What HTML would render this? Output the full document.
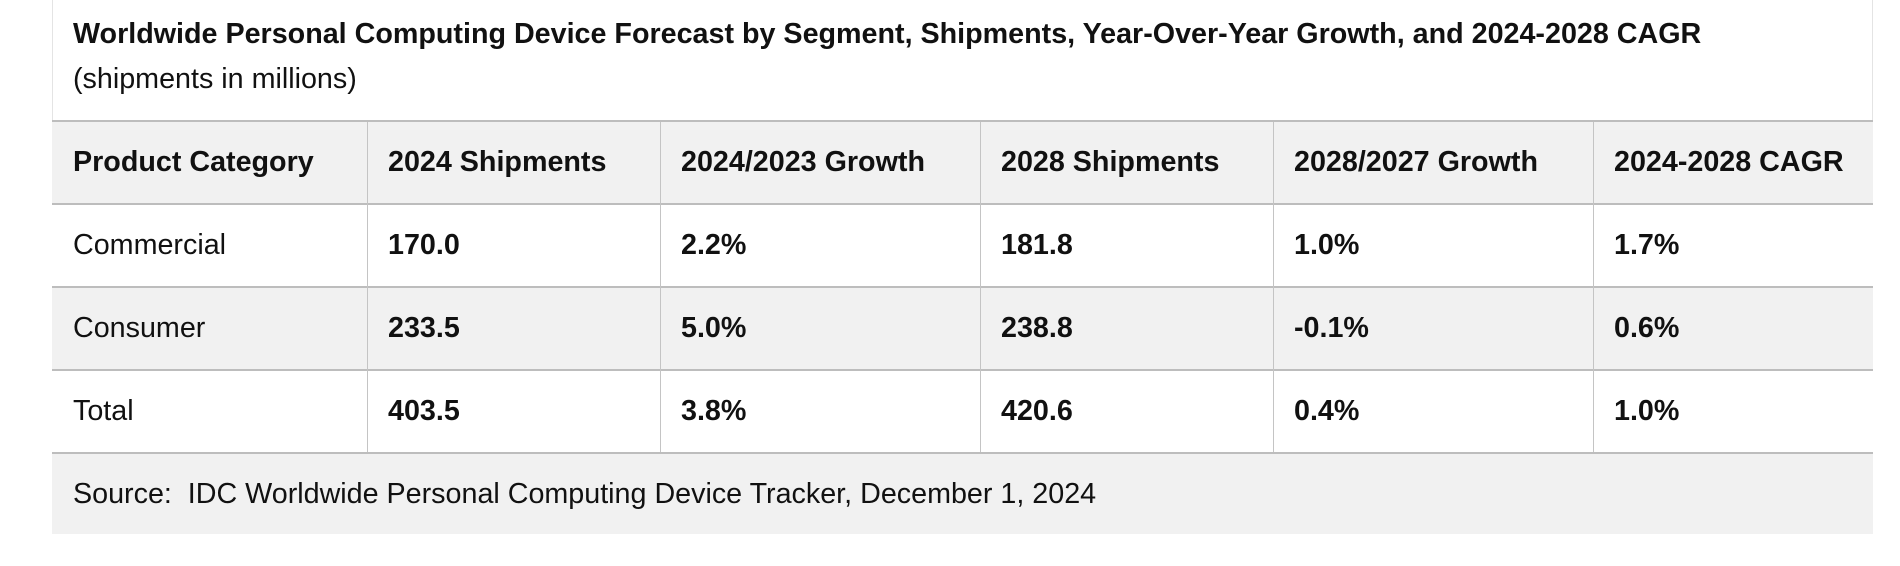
<!DOCTYPE html>
<html><head><meta charset="utf-8"><style>
html,body{margin:0;padding:0;background:#fff;width:1900px;height:566px;overflow:hidden;font-family:"Liberation Sans",sans-serif;color:#111;}
.box{position:absolute;left:52px;top:0;width:1821px;height:534px;border-left:1px solid #e4e4e4;border-right:1px solid #e4e4e4;box-sizing:border-box;}
.t{position:absolute;white-space:nowrap;}
.title{left:73px;top:18px;font-size:28.7px;font-weight:bold;}
.sub{left:73px;top:63px;font-size:28.7px;}
.row{position:absolute;left:52px;width:1821px;border-top:2px solid #bdbdbd;box-sizing:border-box;}
.vl{position:absolute;width:1px;background:#c4c4c4;}
.c{position:absolute;font-size:28.7px;white-space:nowrap;}
.b{font-weight:bold;}
</style></head><body>
<div class="box"></div>
<div class="t title">Worldwide Personal Computing Device Forecast by Segment, Shipments, Year-Over-Year Growth, and 2024-2028 CAGR</div>
<div class="t sub">(shipments in millions)</div>
<div class="row" style="top:120px;height:84px;background:#f1f1f1"></div>
<div class="row" style="top:203px;height:84px;background:#fff"></div>
<div class="row" style="top:286px;height:84px;background:#f1f1f1"></div>
<div class="row" style="top:369px;height:84px;background:#fff"></div>
<div class="row" style="top:452px;height:82px;background:#f1f1f1"></div>
<div class="vl" style="left:367px;top:122px;height:330px"></div>
<div class="vl" style="left:660px;top:122px;height:330px"></div>
<div class="vl" style="left:980px;top:122px;height:330px"></div>
<div class="vl" style="left:1273px;top:122px;height:330px"></div>
<div class="vl" style="left:1593px;top:122px;height:330px"></div>

<div class="c b" style="left:73px;top:146px">Product Category</div>
<div class="c b" style="left:388px;top:146px">2024 Shipments</div>
<div class="c b" style="left:681px;top:146px">2024/2023 Growth</div>
<div class="c b" style="left:1001px;top:146px">2028 Shipments</div>
<div class="c b" style="left:1294px;top:146px">2028/2027 Growth</div>
<div class="c b" style="left:1614px;top:146px">2024-2028 CAGR</div>

<div class="c" style="left:73px;top:229px">Commercial</div>
<div class="c b" style="left:388px;top:229px">170.0</div>
<div class="c b" style="left:681px;top:229px">2.2%</div>
<div class="c b" style="left:1001px;top:229px">181.8</div>
<div class="c b" style="left:1294px;top:229px">1.0%</div>
<div class="c b" style="left:1614px;top:229px">1.7%</div>

<div class="c" style="left:73px;top:312px">Consumer</div>
<div class="c b" style="left:388px;top:312px">233.5</div>
<div class="c b" style="left:681px;top:312px">5.0%</div>
<div class="c b" style="left:1001px;top:312px">238.8</div>
<div class="c b" style="left:1294px;top:312px">-0.1%</div>
<div class="c b" style="left:1614px;top:312px">0.6%</div>

<div class="c" style="left:73px;top:395px">Total</div>
<div class="c b" style="left:388px;top:395px">403.5</div>
<div class="c b" style="left:681px;top:395px">3.8%</div>
<div class="c b" style="left:1001px;top:395px">420.6</div>
<div class="c b" style="left:1294px;top:395px">0.4%</div>
<div class="c b" style="left:1614px;top:395px">1.0%</div>

<div class="c" style="left:73px;top:478px">Source:&nbsp; IDC Worldwide Personal Computing Device Tracker, December 1, 2024</div>
</body></html>
